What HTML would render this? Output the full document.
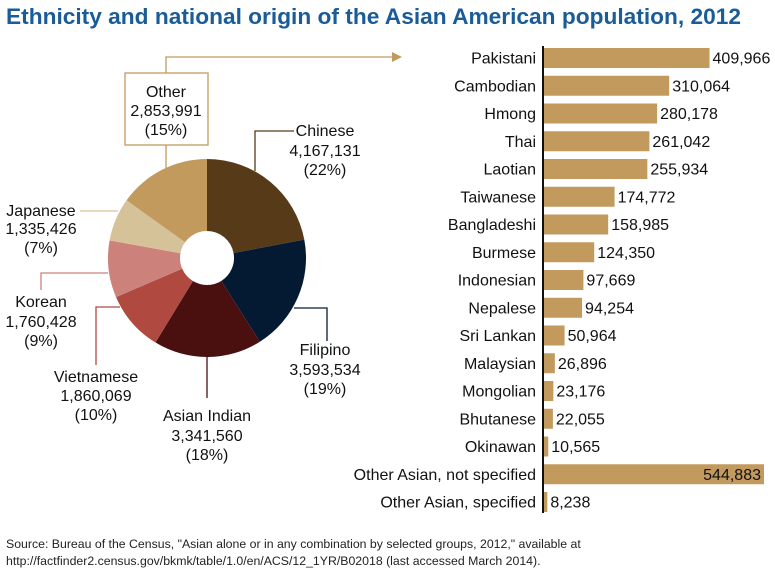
<!DOCTYPE html>
<html><head><meta charset="utf-8"><style>
body{margin:0;background:#fff;}
svg text{font-family:"Liberation Sans",sans-serif;}
</style></head><body>
<svg width="775" height="570" viewBox="0 0 775 570" xmlns="http://www.w3.org/2000/svg">
<text x="6" y="24" font-size="22.5" font-weight="bold" fill="#1a5c98" textLength="735" lengthAdjust="spacingAndGlyphs">Ethnicity and national origin of the Asian American population, 2012</text>
<g id="pie"></g>
<g id="leaders" fill="none" stroke-width="1.3">
<rect x="125" y="73" width="83" height="72" stroke="#c29a5e" fill="#fff"/>
<polyline points="166,73 166,57 392,57" stroke="#c29a5e"/>
<polygon points="392,52 402,57 392,62" fill="#c29a5e" stroke="none"/>
<line x1="166" y1="145" x2="166" y2="168" stroke="#c29a5e"/>
<polyline points="255,171 255,131 294,131" stroke="#573a17"/>
<polyline points="80,211 118,211" stroke="#d6c299"/>
<polyline points="41,290 41,273 108,273" stroke="#cc827a"/>
<polyline points="96,365 96,307 120,307" stroke="#b04a40"/>
<line x1="207" y1="357" x2="207" y2="398" stroke="#4a1010"/>
<polyline points="294,308 327,308 327,341" stroke="#041a33"/>
</g>
<g font-size="16" fill="#111" text-anchor="middle">
<text x="166" y="97">Other</text><text x="166" y="116">2,853,991</text><text x="166" y="135">(15%)</text>
<text x="325" y="136">Chinese</text><text x="325" y="156">4,167,131</text><text x="325" y="175">(22%)</text>
<text x="325" y="355">Filipino</text><text x="325" y="375">3,593,534</text><text x="325" y="394">(19%)</text>
<text x="207" y="421">Asian Indian</text><text x="207" y="441">3,341,560</text><text x="207" y="460">(18%)</text>
<text x="96" y="382">Vietnamese</text><text x="96" y="401">1,860,069</text><text x="96" y="420">(10%)</text>
<text x="41" y="307">Korean</text><text x="41" y="327">1,760,428</text><text x="41" y="346">(9%)</text>
<text x="41" y="216">Japanese</text><text x="41" y="234">1,335,426</text><text x="41" y="253">(7%)</text>
</g>
<g id="bars"></g>
<text x="6" y="548" font-size="12.3" fill="#222">Source: Bureau of the Census, "Asian alone or in any combination by selected groups, 2012," available at</text>
<text x="6" y="565" font-size="12.3" fill="#222">http://factfinder2.census.gov/bkmk/table/1.0/en/ACS/12_1YR/B02018 (last accessed March 2014).</text>
</svg>
<script>
const pieNames=["Chinese","Filipino","Asian Indian","Vietnamese","Korean","Japanese","Other"];
const pieValues=[4167131,3593534,3341560,1860069,1760428,1335426,2853991];
const pieColors=["#573a17","#041a33","#4a1010","#b04a40","#cc827a","#d6c299","#c29a5e"];
const barNames=["Pakistani","Cambodian","Hmong","Thai","Laotian","Taiwanese","Bangladeshi","Burmese","Indonesian","Nepalese","Sri Lankan","Malaysian","Mongolian","Bhutanese","Okinawan","Other Asian, not specified","Other Asian, specified"];
const barValues=[409966,310064,280178,261042,255934,174772,158985,124350,97669,94254,50964,26896,23176,22055,10565,544883,8238];
const NS="http://www.w3.org/2000/svg";
function mk(t,a,p){const e=document.createElementNS(NS,t);for(const k in a)e.setAttribute(k,a[k]);p.appendChild(e);return e;}
const pie=document.getElementById('pie');
const cx=207,cy=258,R=99,r0=27;
const tot=pieValues.reduce((a,b)=>a+b,0);
let ang=0;
pieValues.forEach((v,i)=>{
  const a0=ang,a1=ang+v/tot*2*Math.PI;ang=a1;
  const P=(a,rr)=>[cx+rr*Math.sin(a),cy-rr*Math.cos(a)];
  const [x0,y0]=P(a0,R),[x1,y1]=P(a1,R),[x2,y2]=P(a1,r0),[x3,y3]=P(a0,r0);
  const lg=(a1-a0)>Math.PI?1:0;
  const p=mk('path',{d:`M${x0},${y0}A${R},${R} 0 ${lg} 1 ${x1},${y1}L${x2},${y2}A${r0},${r0} 0 ${lg} 0 ${x3},${y3}Z`,fill:pieColors[i]},pie);
  
  
});
const bars=document.getElementById('bars');
const x0b=544,scale=220/544883,top0=58,pitch=27.75,bh=20;
const xs=v=>x0b+v*scale;
barValues.forEach((v,i)=>{
  const y=top0+i*pitch;
  const b=mk('rect',{x:x0b,y:y-bh/2,width:xs(v)-x0b,height:bh,fill:"#c29a5e"},bars);
  
  
  const l=mk('text',{x:536,y:y+5.5,'font-size':16,'text-anchor':'end',fill:'#111'},bars);
  l.textContent=barNames[i];
  
  
  const inside=xs(v)>740;
  const t=mk('text',{x:inside?xs(v)-3:xs(v)+3,y:y+5.5,'font-size':16,'text-anchor':inside?'end':'start',fill:'#111'},bars);
  t.textContent=v.toLocaleString('en-US');
  
  
});
const ax=mk('line',{x1:543,y1:46,x2:543,y2:513,stroke:'#111','stroke-width':2},bars);


</script>
</body></html>
